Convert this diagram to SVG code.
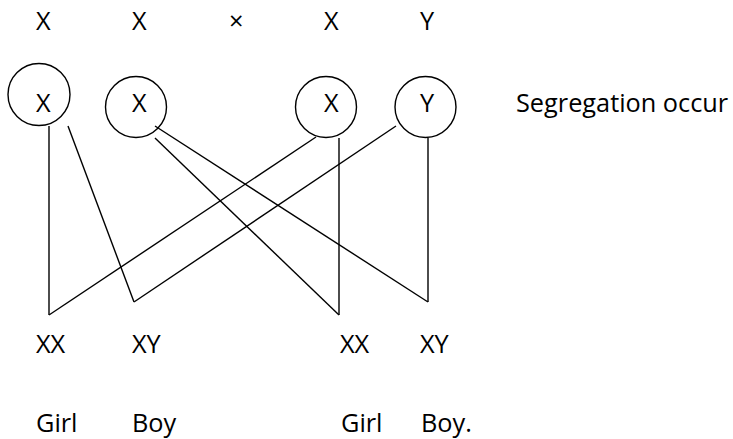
<svg xmlns="http://www.w3.org/2000/svg" width="733" height="439" viewBox="0 0 733 439">
<style>
text{font-family:"Open Sans","Liberation Sans",sans-serif;font-size:25.3px;fill:#000}
circle{fill:none;stroke:#000;stroke-width:1.4}
.c line{stroke:#000;stroke-width:1.4;fill:none}
</style>
<rect width="733" height="439" fill="#fff"/>
<g id="top">
<text x="36" y="30">X</text>
<text x="132" y="30">X</text>
<text x="229" y="30" font-size="21">×</text>
<text x="324" y="30">X</text>
<text x="420" y="30">Y</text>
</g>
<g id="n1"><circle cx="39" cy="94.5" r="31"/><text x="36" y="112">X</text></g>
<g id="n2"><circle cx="136" cy="107" r="30.5"/><text x="132" y="112">X</text></g>
<g id="n3"><circle cx="326" cy="107" r="30.5"/><text x="324" y="112">X</text></g>
<g id="n4"><circle cx="425.5" cy="107" r="30.5"/><text x="420" y="112">Y</text></g>
<g id="note"><text x="516" y="112">Segregation occur</text></g>
<g class="c" id="connectors">
<line x1="49" y1="126" x2="49" y2="315"/>
<line x1="68" y1="126" x2="134" y2="302"/>
<line x1="49" y1="315" x2="316" y2="137"/>
<line x1="134" y1="302" x2="396" y2="126"/>
<line x1="155" y1="126" x2="428" y2="302"/>
<line x1="155" y1="138" x2="339" y2="315"/>
<line x1="339" y1="138" x2="339" y2="315"/>
<line x1="428" y1="138" x2="428" y2="302"/>
</g>
<g id="o1"><text x="36" y="353">XX</text><text x="36" y="432">Girl</text></g>
<g id="o2"><text x="132" y="353">XY</text><text x="132" y="432">Boy</text></g>
<g id="o3"><text x="340" y="353">XX</text><text x="341" y="432">Girl</text></g>
<g id="o4"><text x="420" y="353">XY</text><text x="421" y="432">Boy.</text></g>
</svg>
